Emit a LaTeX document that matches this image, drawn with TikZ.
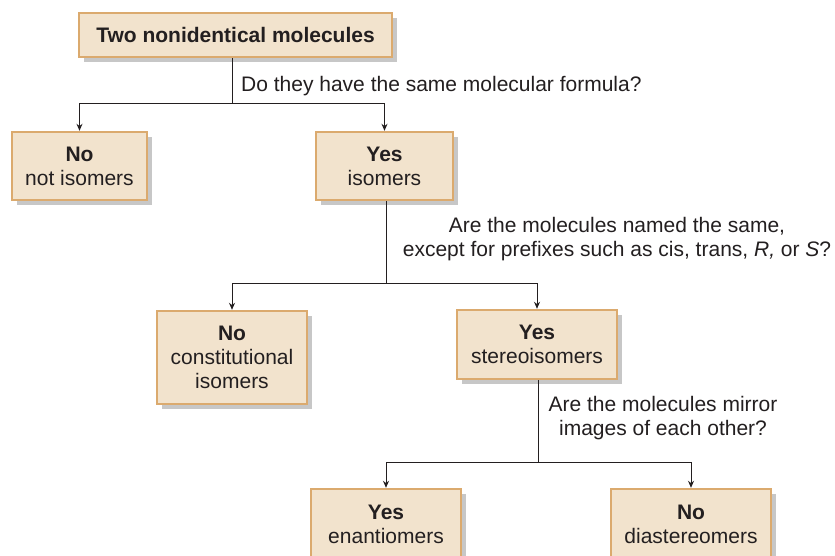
\documentclass[tikz,border=0pt]{standalone}
\usepackage{fontspec}
\setmainfont{Liberation Sans}
\usetikzlibrary{arrows.meta,shadows}
\definecolor{boxfill}{HTML}{F2E3CD}
\definecolor{boxline}{HTML}{DBAA6E}
\definecolor{ink}{HTML}{231F20}
\tikzset{
  box/.style={draw=boxline, fill=boxfill, line width=2.4pt, inner sep=0pt, align=center,
    text=ink, font=\fontsize{21}{24}\selectfont,
    drop shadow={shadow xshift=5pt, shadow yshift=-5pt, fill=black, opacity=0.22}},
  qtext/.style={inner sep=0pt, text=ink, font=\fontsize{21}{23.5}\selectfont, align=center},
  conn/.style={draw=ink, line width=1pt},
  arr/.style={conn, -{Stealth[length=7pt,width=6pt]}}
}
\newcommand{\bx}[6]{% name, x1, y1, x2, y2, text
  \node[box, minimum width=#4pt-#2pt, minimum height=#5pt-#3pt] (#1) at ({(#2+#4)/2},{(#3+#5)/2}) {#6};}
\begin{document}
\begin{tikzpicture}[x=1pt,y=-1pt]
\clip (0,0) rectangle (835,556);
\fill[white] (0,0) rectangle (835,556);
\bx{top}{79}{13}{392}{57}{\textbf{Two nonidentical molecules}}
\bx{noiso}{12}{132}{147}{200}{\textbf{No}\\not isomers}
\bx{iso}{316}{132}{453}{200}{\textbf{Yes}\\isomers}
\bx{const}{157}{311}{307}{404}{\textbf{No}\\constitutional\\isomers}
\bx{stereo}{457}{310}{617}{379}{\textbf{Yes}\\stereoisomers}
\bx{enan}{311}{489}{461}{560}{\textbf{Yes}\\enantiomers}
\bx{dia}{611}{489}{771}{560}{\textbf{No}\\diastereomers}
% junctions
\coordinate (j1) at (232,104);
\coordinate (j2) at (386,283);
\coordinate (j3) at (538,462);
\draw[conn] (top.south -| j1) -- (j1);
\draw[arr] (j1) -| (noiso.north);
\draw[arr] (j1) -| (iso.north);
\draw[conn] (iso.south -| j2) -- (j2);
\draw[arr] (j2) -| (const.north);
\draw[arr] (j2) -| (stereo.north);
\draw[conn] (stereo.south -| j3) -- (j3);
\draw[arr] (j3) -| (enan.north);
\draw[arr] (j3) -| (dia.north);
% questions
\node[qtext, anchor=base west] (q1) at (241,92) {Do they have the same molecular formula?};
\node[qtext, anchor=base] (q2) at (617,256) {Are the molecules named the same,\\except for prefixes such as cis, trans, \textit{R,} or \textit{S}?};
\node[qtext, anchor=base] (q3) at (663,435) {Are the molecules mirror\\images of each other?};
\end{tikzpicture}
\end{document}
